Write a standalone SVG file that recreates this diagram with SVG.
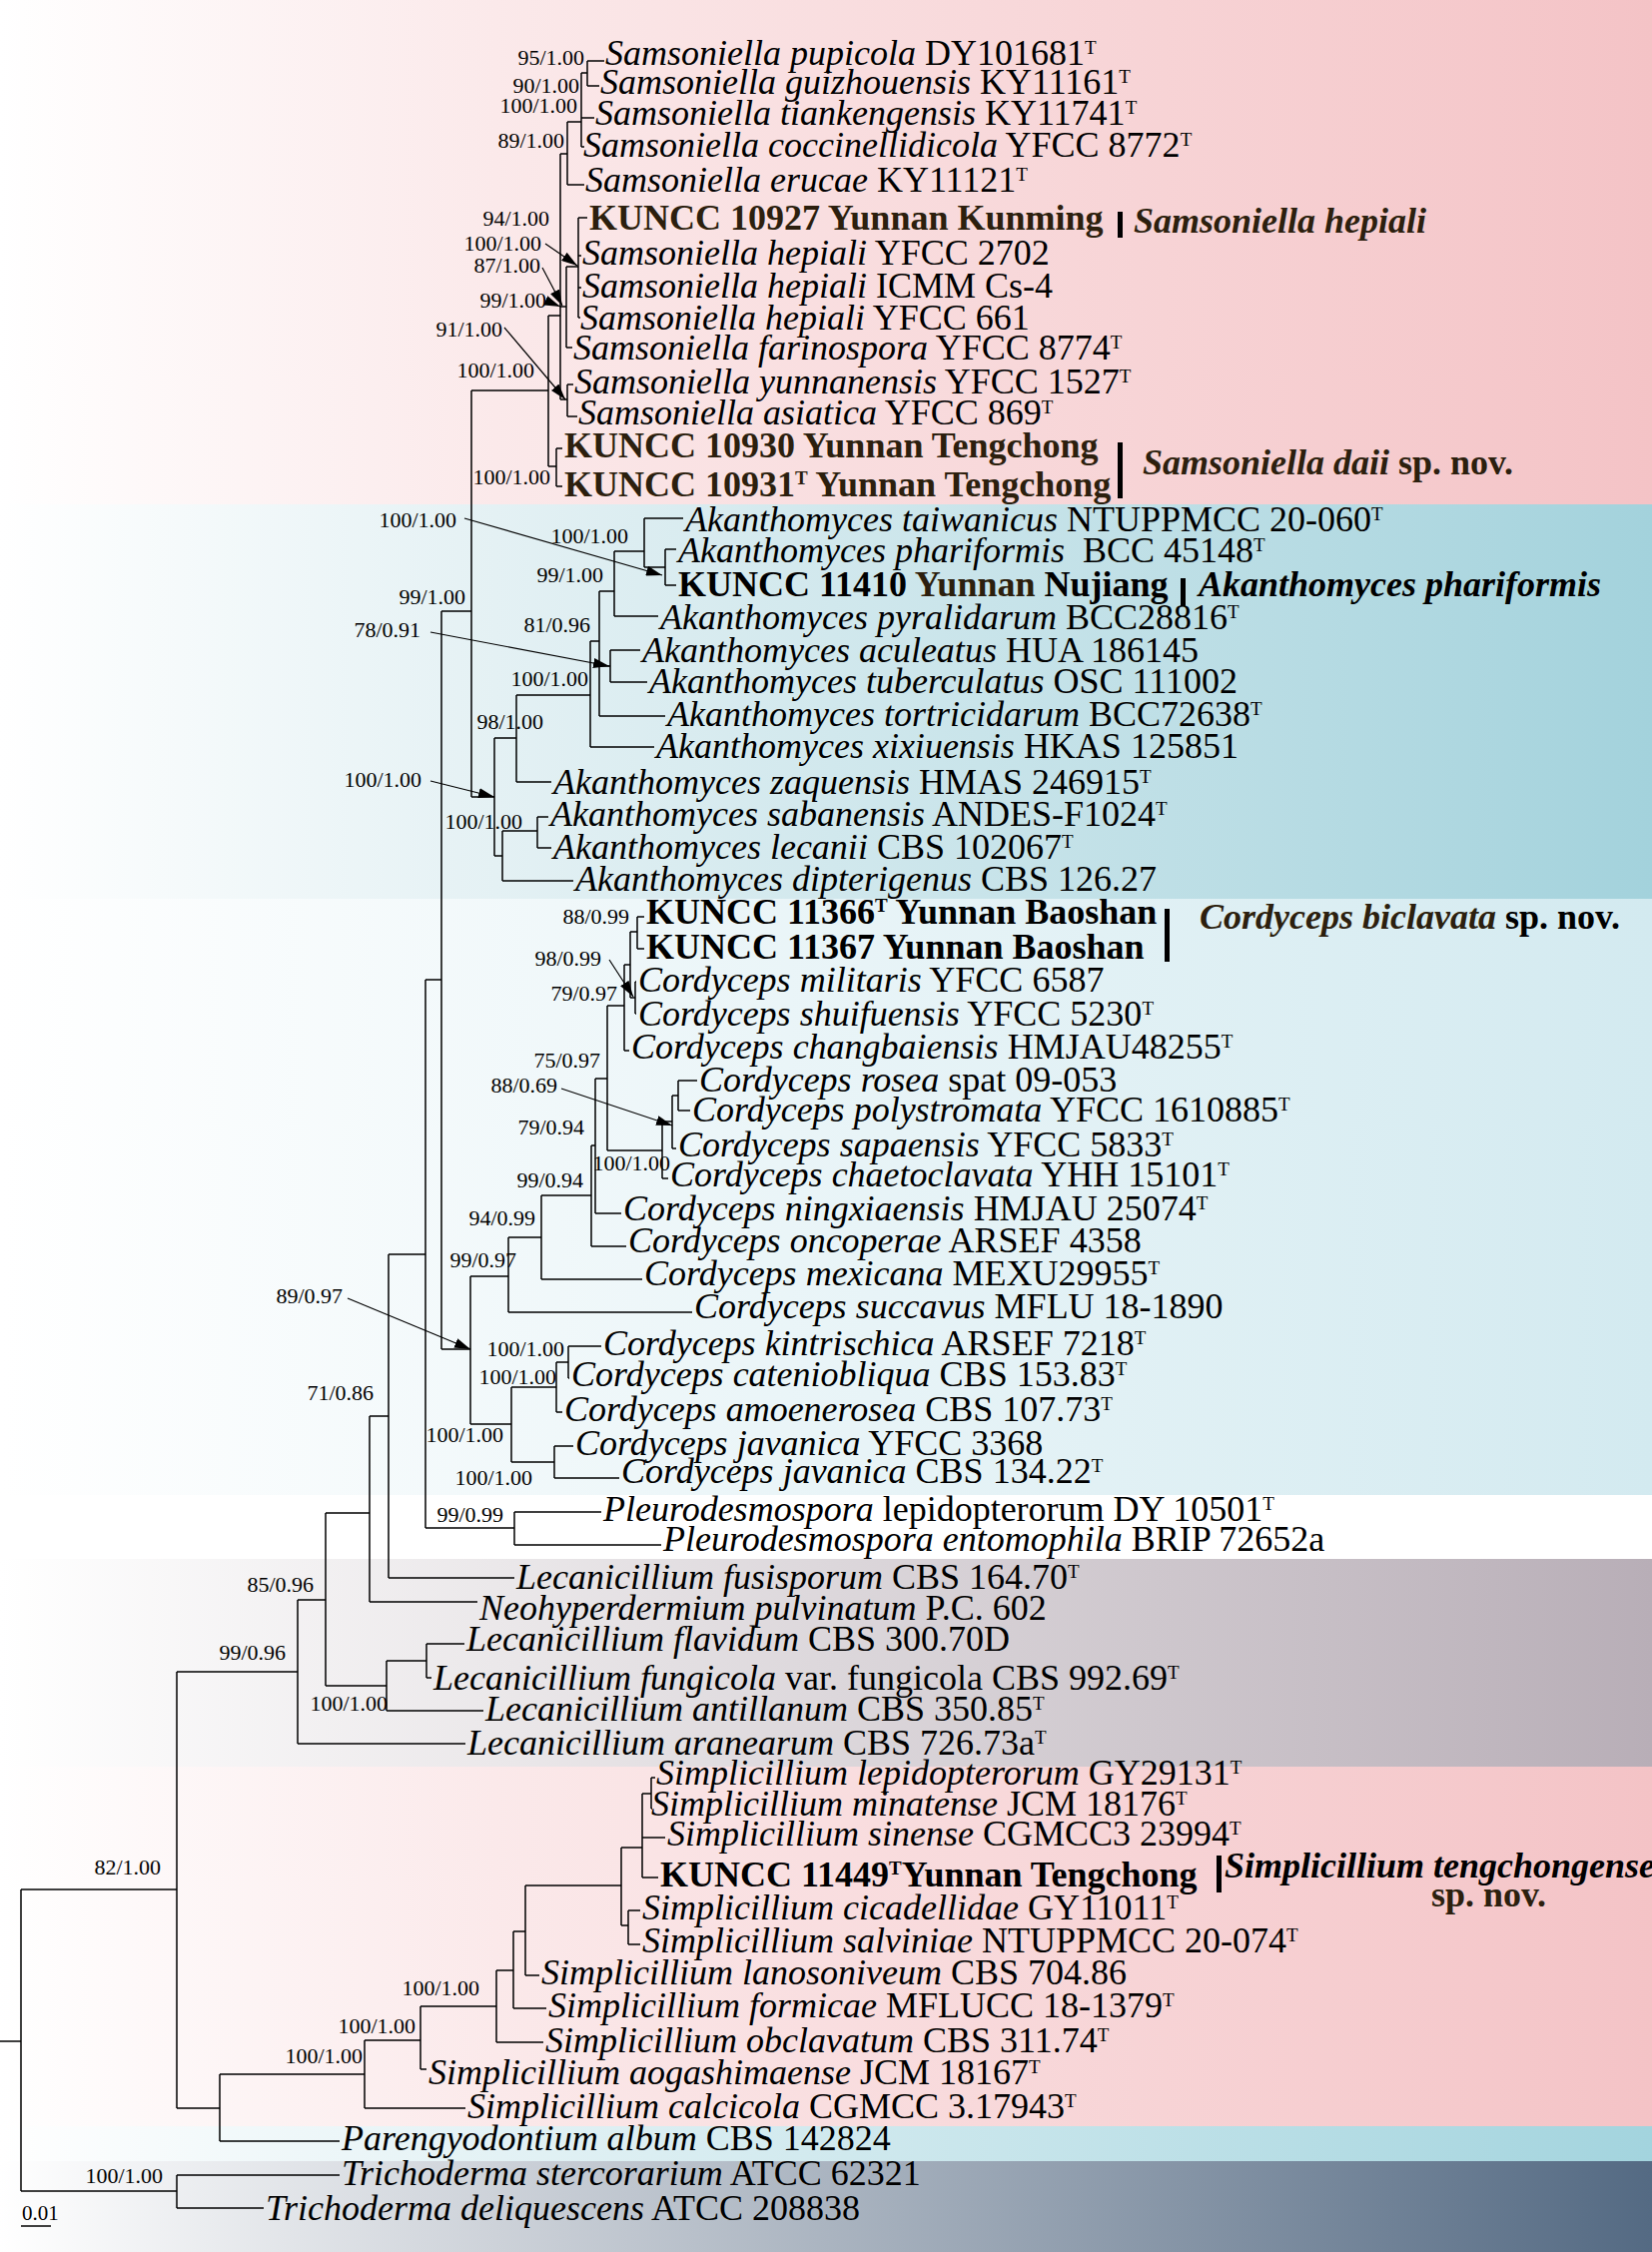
<svg xmlns="http://www.w3.org/2000/svg" width="1654" height="2255" viewBox="0 0 1654 2255">
<defs>
<linearGradient id="gPink" x1="0" y1="0" x2="1" y2="0"><stop offset="0" stop-color="#ffffff"/><stop offset="0.3" stop-color="#fbe9ea"/><stop offset="1" stop-color="#f4c3c6"/></linearGradient>
<linearGradient id="gTeal" x1="0" y1="0" x2="1" y2="0"><stop offset="0" stop-color="#ffffff"/><stop offset="0.3" stop-color="#e4f1f4"/><stop offset="1" stop-color="#a3d2dc"/></linearGradient>
<linearGradient id="gCyan" x1="0" y1="0" x2="1" y2="0"><stop offset="0" stop-color="#ffffff"/><stop offset="1" stop-color="#d3eaf0"/></linearGradient>
<linearGradient id="gGray" x1="0" y1="0" x2="1" y2="0"><stop offset="0" stop-color="#ffffff"/><stop offset="0.3" stop-color="#ebe8ea"/><stop offset="1" stop-color="#b8aeb7"/></linearGradient>
<linearGradient id="gCyan2" x1="0" y1="0" x2="1" y2="0"><stop offset="0" stop-color="#ffffff"/><stop offset="1" stop-color="#a3d4de"/></linearGradient>
<linearGradient id="gDark" x1="0" y1="0" x2="1" y2="0"><stop offset="0" stop-color="#ffffff"/><stop offset="0.3" stop-color="#cdd2d9"/><stop offset="1" stop-color="#546a83"/></linearGradient>
<marker id="ah" viewBox="0 0 16 10" refX="16" refY="5" markerWidth="16" markerHeight="10" markerUnits="userSpaceOnUse" orient="auto" preserveAspectRatio="none"><path d="M0,0 L16,5 L0,10 z" fill="#000"/></marker>
<style>
text{font-family:"Liberation Serif","Times New Roman",serif;fill:#000}
.t{font-size:36px}
.i{font-style:italic}
.b{font-weight:bold}
.br{fill:#2c1f0e}
.sup{font-size:19px}
.s{font-size:22px;text-anchor:end}
.tree{fill:none;stroke:#000;stroke-width:1.5}
.arr{fill:none;stroke:#000;stroke-width:1.2}
</style>
</defs>
<g id="background">
<rect x="0" y="0" width="1654" height="505" fill="url(#gPink)"/>
<rect x="0" y="505" width="1654" height="395" fill="url(#gTeal)"/>
<rect x="0" y="900" width="1654" height="597" fill="url(#gCyan)"/>
<rect x="0" y="1497" width="1654" height="64" fill="#ffffff"/>
<rect x="0" y="1561" width="1654" height="208" fill="url(#gGray)"/>
<rect x="0" y="1769" width="1654" height="360" fill="url(#gPink)"/>
<rect x="0" y="2129" width="1654" height="35" fill="url(#gCyan2)"/>
<rect x="0" y="2164" width="1654" height="91" fill="url(#gDark)"/>
</g>
<g id="connectors">
<path class="tree" d="M588 61V86M588 61H605M588 86H600M582 73H588M582 73V147M582 118H595M582 147H585M568 122H582M568 122V185M568 185H585M561 154H568M561 154V400M579 218V318M579 218H588M579 256H582M579 288H582M579 318H581M567 267H579M567 267V348M567 348H573M561 307H567M568 385V417M568 385H574M568 417H578M561 400H568M549 316H561M549 316V467M549 467H557M557 449V487M557 449H563M557 487H563M472 391H549"/>
<path class="tree" d="M645 519H684M645 519V568M666 550V586M666 550H677M666 586H677M645 568H666M615 552H645M615 552V617M615 617H659M600 592H615M600 592V717M611 651V683M611 651H641M611 683H648M600 667H611M600 717H666M591 642H600M591 642V748M591 748H655M517 696H591M517 696V783M517 783H552M495 739H517M538 818V849M538 818H549M538 849H552M503 832H538M503 832V882M503 882H574M495 857H503M495 739V857M472 798H495M472 391V798M442 612H472"/>
<path class="tree" d="M638 918V950M638 918H645M638 950H645M631 933H638M636 983V1015M636 983H637M636 1015H637M631 999H636M631 933V999M625 966H631M625 966V1052M625 1052H630M608 1007H625M679 1082V1112M679 1082H698M679 1112H691M673 1097H679M673 1097V1150M673 1150H677M663 1123H673M663 1123V1180M663 1180H669M608 1152H663M608 1007V1152M596 1080H608M596 1080V1215M596 1215H622M592 1147H596M592 1147V1248M592 1248H627M542 1197H592M542 1197V1281M542 1281H643M509 1239H542M509 1239V1314M509 1314H693M471 1278H509M569 1348V1380M569 1348H602M569 1380H570M557 1364H569M557 1364V1414M557 1414H563M512 1389H557M555 1448V1480M555 1448H574M555 1480H620M512 1464H555M512 1389V1464M471 1426H512M471 1278V1426M442 1351H471M442 612V1351M426 981H442"/>
<path class="tree" d="M515 1514V1547M515 1514H602M515 1547H662M426 1530H515M426 981V1530M389 1256H426M389 1256V1580M389 1580H515M370 1418H389M370 1418V1604M370 1604H478M326 1515H370M427 1646V1680M427 1646H465M427 1680H432M387 1663H427M387 1663V1713M387 1713H484M326 1688H387M326 1515V1688M298 1602H326M298 1602V1746M298 1746H466M177 1674H298M177 1674V2111"/>
<path class="tree" d="M652 1780V1811M652 1780H656M652 1811H653M643 1796H652M643 1796V1880M643 1840H666M643 1880H659M622 1850H643M629 1913V1947M629 1913H641M629 1947H641M622 1928H629M622 1850V1928M526 1888H622M526 1888V1978M526 1978H540M514 1934H526M514 1934V2011M514 2011H547M497 1973H514M497 1973V2045M497 2045H544M421 2009H497M421 2009V2072M421 2072H427M365 2043H421M365 2043V2111M365 2111H466M220 2077H365M220 2077V2144M220 2144H340M177 2111H220M177 2178V2211M177 2178H340M177 2211H264M21 2194H177M21 1892H177M21 1892V2194M0 2044H21"/>
<path class="tree" d="M21 2229H51"/>
<path class="arr" marker-end="url(#ah)" d="M546 244L578 266"/>
<path class="arr" marker-end="url(#ah)" d="M543 268L563 306"/>
<path class="arr" marker-end="url(#ah)" d="M549 302L561 307"/>
<path class="arr" marker-end="url(#ah)" d="M505 328L566 400"/>
<path class="arr" marker-end="url(#ah)" d="M465 519L663 576"/>
<path class="arr" marker-end="url(#ah)" d="M431 633L610 667"/>
<path class="arr" marker-end="url(#ah)" d="M431 782L495 798"/>
<path class="arr" marker-end="url(#ah)" d="M610 961L634 998"/>
<path class="arr" marker-end="url(#ah)" d="M562 1090L673 1127"/>
<path class="arr" marker-end="url(#ah)" d="M348 1300L471 1351"/>
</g>
<g id="support-values">
<text class="s" x="585" y="65">95/1.00</text>
<text class="s" x="580" y="93">90/1.00</text>
<text class="s" x="578" y="113">100/1.00</text>
<text class="s" x="565" y="148">89/1.00</text>
<text class="s" x="550" y="226">94/1.00</text>
<text class="s" x="542" y="251">100/1.00</text>
<text class="s" x="541" y="273">87/1.00</text>
<text class="s" x="547" y="308">99/1.00</text>
<text class="s" x="503" y="337">91/1.00</text>
<text class="s" x="535" y="378">100/1.00</text>
<text class="s" x="551" y="485">100/1.00</text>
<text class="s" x="457" y="528">100/1.00</text>
<text class="s" x="629" y="544">100/1.00</text>
<text class="s" x="604" y="583">99/1.00</text>
<text class="s" x="466" y="605">99/1.00</text>
<text class="s" x="421" y="638">78/0.91</text>
<text class="s" x="591" y="633">81/0.96</text>
<text class="s" x="589" y="687">100/1.00</text>
<text class="s" x="544" y="730">98/1.00</text>
<text class="s" x="422" y="788">100/1.00</text>
<text class="s" x="523" y="830">100/1.00</text>
<text class="s" x="630" y="925">88/0.99</text>
<text class="s" x="602" y="967">98/0.99</text>
<text class="s" x="618" y="1002">79/0.97</text>
<text class="s" x="601" y="1069">75/0.97</text>
<text class="s" x="558" y="1094">88/0.69</text>
<text class="s" x="585" y="1136">79/0.94</text>
<text class="s" x="671" y="1172">100/1.00</text>
<text class="s" x="584" y="1189">99/0.94</text>
<text class="s" x="536" y="1227">94/0.99</text>
<text class="s" x="517" y="1269">99/0.97</text>
<text class="s" x="343" y="1305">89/0.97</text>
<text class="s" x="565" y="1358">100/1.00</text>
<text class="s" x="557" y="1386">100/1.00</text>
<text class="s" x="504" y="1444">100/1.00</text>
<text class="s" x="533" y="1487">100/1.00</text>
<text class="s" x="374" y="1402">71/0.86</text>
<text class="s" x="504" y="1524">99/0.99</text>
<text class="s" x="314" y="1594">85/0.96</text>
<text class="s" x="286" y="1662">99/0.96</text>
<text class="s" x="388" y="1713">100/1.00</text>
<text class="s" x="161" y="1877">82/1.00</text>
<text class="s" x="480" y="1998">100/1.00</text>
<text class="s" x="416" y="2036">100/1.00</text>
<text class="s" x="363" y="2066">100/1.00</text>
<text class="s" x="163" y="2186">100/1.00</text>
<text x="22" y="2223" style="font-size:21px">0.01</text>
</g>
<g id="leaf-01"><text class="t" x="606" y="65"><tspan class="i">Samsoniella pupicola</tspan> DY101681<tspan class="sup" dy="-11">T</tspan></text></g>
<g id="leaf-02"><text class="t" x="601" y="94"><tspan class="i">Samsoniella guizhouensis</tspan> KY11161<tspan class="sup" dy="-11">T</tspan></text></g>
<g id="leaf-03"><text class="t" x="596" y="125"><tspan class="i">Samsoniella tiankengensis</tspan> KY11741<tspan class="sup" dy="-11">T</tspan></text></g>
<g id="leaf-04"><text class="t" x="584" y="157"><tspan class="i">Samsoniella coccinellidicola</tspan> YFCC 8772<tspan class="sup" dy="-11">T</tspan></text></g>
<g id="leaf-05"><text class="t" x="586" y="192"><tspan class="i">Samsoniella erucae</tspan> KY11121<tspan class="sup" dy="-11">T</tspan></text></g>
<g id="leaf-06"><text class="t b br" x="590" y="230">KUNCC 10927 Yunnan Kunming</text></g>
<g id="leaf-07"><text class="t" x="583" y="265"><tspan class="i">Samsoniella hepiali</tspan> YFCC 2702</text></g>
<g id="leaf-08"><text class="t" x="583" y="298"><tspan class="i">Samsoniella hepiali</tspan> ICMM Cs-4</text></g>
<g id="leaf-09"><text class="t" x="581" y="330"><tspan class="i">Samsoniella hepiali</tspan> YFCC 661</text></g>
<g id="leaf-10"><text class="t" x="574" y="360"><tspan class="i">Samsoniella farinospora</tspan> YFCC 8774<tspan class="sup" dy="-11">T</tspan></text></g>
<g id="leaf-11"><text class="t" x="575" y="394"><tspan class="i">Samsoniella yunnanensis</tspan> YFCC 1527<tspan class="sup" dy="-11">T</tspan></text></g>
<g id="leaf-12"><text class="t" x="579" y="425"><tspan class="i">Samsoniella asiatica</tspan> YFCC 869<tspan class="sup" dy="-11">T</tspan></text></g>
<g id="leaf-13"><text class="t b br" x="565" y="458">KUNCC 10930 Yunnan Tengchong</text></g>
<g id="leaf-14"><text class="t b br" x="565" y="497">KUNCC 10931<tspan class="sup" dy="-12">T</tspan><tspan dy="12"> Yunnan Tengchong</tspan></text></g>
<g id="leaf-15"><text class="t" x="686" y="532"><tspan class="i">Akanthomyces taiwanicus</tspan> NTUPPMCC 20-060<tspan class="sup" dy="-11">T</tspan></text></g>
<g id="leaf-16"><text class="t" x="679" y="563"><tspan class="i">Akanthomyces phariformis</tspan><tspan dx="9"> BCC 45148</tspan><tspan class="sup" dy="-11">T</tspan></text></g>
<g id="leaf-17"><text class="t b" x="679" y="597">KUNCC 11410 <tspan class="br">Yunnan</tspan> Nujiang</text></g>
<g id="leaf-18"><text class="t" x="661" y="630"><tspan class="i">Akanthomyces pyralidarum</tspan> BCC28816<tspan class="sup" dy="-11">T</tspan></text></g>
<g id="leaf-19"><text class="t" x="643" y="663"><tspan class="i">Akanthomyces aculeatus</tspan> HUA 186145</text></g>
<g id="leaf-20"><text class="t" x="650" y="694"><tspan class="i">Akanthomyces tuberculatus</tspan> OSC 111002</text></g>
<g id="leaf-21"><text class="t" x="668" y="727"><tspan class="i">Akanthomyces tortricidarum</tspan> BCC72638<tspan class="sup" dy="-11">T</tspan></text></g>
<g id="leaf-22"><text class="t" x="657" y="759"><tspan class="i">Akanthomyces xixiuensis</tspan> HKAS 125851</text></g>
<g id="leaf-23"><text class="t" x="554" y="795"><tspan class="i">Akanthomyces zaquensis</tspan> HMAS 246915<tspan class="sup" dy="-11">T</tspan></text></g>
<g id="leaf-24"><text class="t" x="551" y="827"><tspan class="i">Akanthomyces sabanensis</tspan> ANDES-F1024<tspan class="sup" dy="-11">T</tspan></text></g>
<g id="leaf-25"><text class="t" x="554" y="860"><tspan class="i">Akanthomyces lecanii</tspan> CBS 102067<tspan class="sup" dy="-11">T</tspan></text></g>
<g id="leaf-26"><text class="t" x="576" y="892"><tspan class="i">Akanthomyces dipterigenus</tspan> CBS 126.27</text></g>
<g id="leaf-27"><text class="t b" x="647" y="925">KUNCC 11366<tspan class="sup" dy="-12">T</tspan><tspan dy="12"> Yunnan Baoshan</tspan></text></g>
<g id="leaf-28"><text class="t b" x="647" y="960">KUNCC 11367 Yunnan Baoshan</text></g>
<g id="leaf-29"><text class="t" x="639" y="993"><tspan class="i">Cordyceps militaris</tspan> YFCC 6587</text></g>
<g id="leaf-30"><text class="t" x="639" y="1027"><tspan class="i">Cordyceps shuifuensis</tspan> YFCC 5230<tspan class="sup" dy="-11">T</tspan></text></g>
<g id="leaf-31"><text class="t" x="632" y="1060"><tspan class="i">Cordyceps changbaiensis</tspan> HMJAU48255<tspan class="sup" dy="-11">T</tspan></text></g>
<g id="leaf-32"><text class="t" x="700" y="1093"><tspan class="i">Cordyceps rosea</tspan> spat 09-053</text></g>
<g id="leaf-33"><text class="t" x="693" y="1123"><tspan class="i">Cordyceps polystromata</tspan> YFCC 1610885<tspan class="sup" dy="-11">T</tspan></text></g>
<g id="leaf-34"><text class="t" x="679" y="1158"><tspan class="i">Cordyceps sapaensis</tspan> YFCC 5833<tspan class="sup" dy="-11">T</tspan></text></g>
<g id="leaf-35"><text class="t" x="671" y="1188"><tspan class="i">Cordyceps chaetoclavata</tspan> YHH 15101<tspan class="sup" dy="-11">T</tspan></text></g>
<g id="leaf-36"><text class="t" x="624" y="1222"><tspan class="i">Cordyceps ningxiaensis</tspan> HMJAU 25074<tspan class="sup" dy="-11">T</tspan></text></g>
<g id="leaf-37"><text class="t" x="629" y="1254"><tspan class="i">Cordyceps oncoperae</tspan> ARSEF 4358</text></g>
<g id="leaf-38"><text class="t" x="645" y="1287"><tspan class="i">Cordyceps mexicana</tspan> MEXU29955<tspan class="sup" dy="-11">T</tspan></text></g>
<g id="leaf-39"><text class="t" x="695" y="1320"><tspan class="i">Cordyceps succavus</tspan> MFLU 18-1890</text></g>
<g id="leaf-40"><text class="t" x="604" y="1357"><tspan class="i">Cordyceps kintrischica</tspan> ARSEF 7218<tspan class="sup" dy="-11">T</tspan></text></g>
<g id="leaf-41"><text class="t" x="572" y="1388"><tspan class="i">Cordyceps cateniobliqua</tspan> CBS 153.83<tspan class="sup" dy="-11">T</tspan></text></g>
<g id="leaf-42"><text class="t" x="565" y="1423"><tspan class="i">Cordyceps amoenerosea</tspan> CBS 107.73<tspan class="sup" dy="-11">T</tspan></text></g>
<g id="leaf-43"><text class="t" x="576" y="1457"><tspan class="i">Cordyceps javanica</tspan> YFCC 3368</text></g>
<g id="leaf-44"><text class="t" x="622" y="1485"><tspan class="i">Cordyceps javanica</tspan> CBS 134.22<tspan class="sup" dy="-11">T</tspan></text></g>
<g id="leaf-45"><text class="t" x="604" y="1523"><tspan class="i">Pleurodesmospora</tspan> lepidopterorum DY 10501<tspan class="sup" dy="-11">T</tspan></text></g>
<g id="leaf-46"><text class="t" x="664" y="1553"><tspan class="i">Pleurodesmospora entomophila</tspan> BRIP 72652a</text></g>
<g id="leaf-47"><text class="t" x="517" y="1591"><tspan class="i">Lecanicillium fusisporum</tspan> CBS 164.70<tspan class="sup" dy="-11">T</tspan></text></g>
<g id="leaf-48"><text class="t" x="480" y="1622"><tspan class="i">Neohyperdermium pulvinatum</tspan> P.C. 602</text></g>
<g id="leaf-49"><text class="t" x="467" y="1653"><tspan class="i">Lecanicillium flavidum</tspan> CBS 300.70D</text></g>
<g id="leaf-50"><text class="t" x="434" y="1692"><tspan class="i">Lecanicillium fungicola</tspan> var. fungicola CBS 992.69<tspan class="sup" dy="-11">T</tspan></text></g>
<g id="leaf-51"><text class="t" x="486" y="1723"><tspan class="i">Lecanicillium antillanum</tspan> CBS 350.85<tspan class="sup" dy="-11">T</tspan></text></g>
<g id="leaf-52"><text class="t" x="468" y="1757"><tspan class="i">Lecanicillium aranearum</tspan> CBS 726.73a<tspan class="sup" dy="-11">T</tspan></text></g>
<g id="leaf-53"><text class="t" x="657" y="1787"><tspan class="i">Simplicillium lepidopterorum</tspan> GY29131<tspan class="sup" dy="-11">T</tspan></text></g>
<g id="leaf-54"><text class="t" x="652" y="1818"><tspan class="i">Simplicillium minatense</tspan> JCM 18176<tspan class="sup" dy="-11">T</tspan></text></g>
<g id="leaf-55"><text class="t" x="668" y="1848"><tspan class="i">Simplicillium sinense</tspan> CGMCC3 23994<tspan class="sup" dy="-11">T</tspan></text></g>
<g id="leaf-56"><text class="t b" x="661" y="1889">KUNCC 11449<tspan class="sup" dy="-12">T</tspan><tspan dy="12">Yunnan Tengchong</tspan></text></g>
<g id="leaf-57"><text class="t" x="643" y="1922"><tspan class="i">Simplicillium cicadellidae</tspan> GY11011<tspan class="sup" dy="-11">T</tspan></text></g>
<g id="leaf-58"><text class="t" x="643" y="1955"><tspan class="i">Simplicillium salviniae</tspan> NTUPPMCC 20-074<tspan class="sup" dy="-11">T</tspan></text></g>
<g id="leaf-59"><text class="t" x="542" y="1987"><tspan class="i">Simplicillium lanosoniveum</tspan> CBS 704.86</text></g>
<g id="leaf-60"><text class="t" x="549" y="2020"><tspan class="i">Simplicillium formicae</tspan> MFLUCC 18-1379<tspan class="sup" dy="-11">T</tspan></text></g>
<g id="leaf-61"><text class="t" x="546" y="2055"><tspan class="i">Simplicillium obclavatum</tspan> CBS 311.74<tspan class="sup" dy="-11">T</tspan></text></g>
<g id="leaf-62"><text class="t" x="429" y="2087"><tspan class="i">Simplicillium aogashimaense</tspan> JCM 18167<tspan class="sup" dy="-11">T</tspan></text></g>
<g id="leaf-63"><text class="t" x="468" y="2121"><tspan class="i">Simplicillium calcicola</tspan> CGMCC 3.17943<tspan class="sup" dy="-11">T</tspan></text></g>
<g id="leaf-64"><text class="t" x="342" y="2153"><tspan class="i">Parengyodontium album</tspan> CBS 142824</text></g>
<g id="leaf-65"><text class="t" x="342" y="2188"><tspan class="i">Trichoderma stercorarium</tspan> ATCC 62321</text></g>
<g id="leaf-66"><text class="t" x="266" y="2223"><tspan class="i">Trichoderma deliquescens</tspan> ATCC 208838</text></g>
<g id="clade-samsoniella-hepiali"><rect x="1119" y="212" width="5" height="26" fill="#000"/><text class="t i b br" x="1135" y="233">Samsoniella hepiali</text></g>
<g id="clade-samsoniella-daii"><rect x="1119" y="443" width="5" height="56" fill="#000"/><text class="t b br" x="1144" y="475"><tspan class="i">Samsoniella daii</tspan> sp. nov.</text></g>
<g id="clade-akanthomyces-phariformis"><rect x="1182" y="579" width="5" height="28" fill="#000"/><text class="t i b" x="1200" y="597">Akanthomyces phariformis</text></g>
<g id="clade-cordyceps-biclavata"><rect x="1166" y="910" width="5" height="53" fill="#000"/><text class="t b" x="1201" y="930"><tspan class="i br">Cordyceps biclavata</tspan> sp. nov.</text></g>
<g id="clade-simplicillium-tengchongense"><rect x="1218" y="1858" width="5" height="37" fill="#000"/><text class="t i b" x="1226" y="1880">Simplicillium tengchongense</text><text class="t b br" x="1433" y="1909">sp. nov.</text></g>
</svg>
